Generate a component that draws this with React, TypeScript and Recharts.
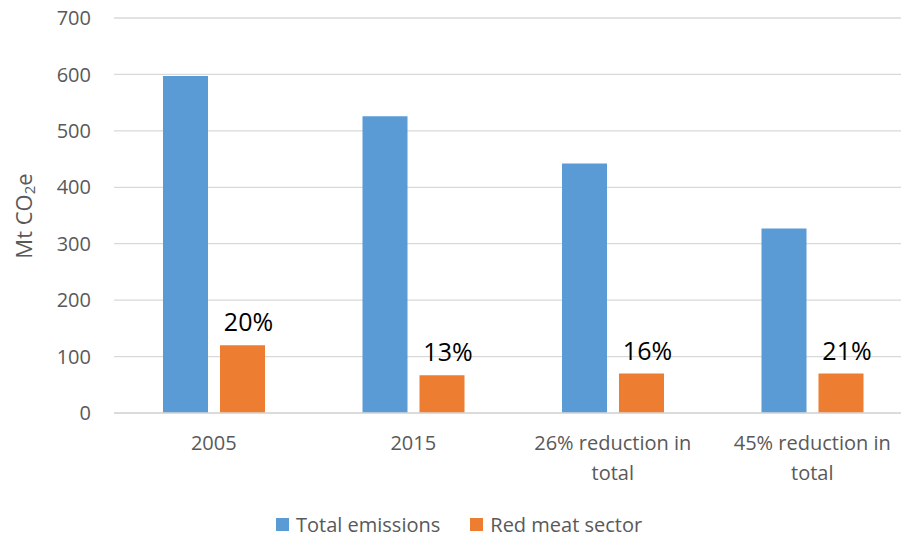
import { Bar, BarChart, CartesianGrid, LabelList, Legend, XAxis, YAxis } from "recharts"

const categories = ["2005", "2015", "26% reduction in total", "45% reduction in total"]
const totalEmissions = [597, 526, 442, 327]
const redMeatSector = [120, 67, 70, 70]
const yTicks = [0, 100, 200, 300, 400, 500, 600, 700]

const BLUE = "#5B9BD5"
const ORANGE = "#ED7D31"
const GREY = "#595959"
const FONT = "'Open Sans', sans-serif"

// share of the red meat sector in the total, shown above the orange bars
const data = categories.map((name, i) => ({
  name,
  total: totalEmissions[i],
  meat: redMeatSector[i],
  share: Math.round((redMeatSector[i] / totalEmissions[i]) * 100),
}))

function CategoryTick({ x, y, payload }: any) {
  const words = String(payload.value).split(" ")
  const lines: string[] = []
  let cur = ""
  for (const w of words) {
    const next = cur ? cur + " " + w : w
    if (next.length > 16 && cur) {
      lines.push(cur)
      cur = w
    } else {
      cur = next
    }
  }
  lines.push(cur)
  return (
    <text x={x} y={y} textAnchor="middle" fill={GREY} fontSize={20} fontFamily={FONT}>
      {lines.map((l, i) => (
        <tspan key={i} x={x} dy={i === 0 ? 29 : 30}>
          {l}
        </tspan>
      ))}
    </text>
  )
}

function ShareLabel({ x, y, width, value }: any) {
  return (
    <text x={x + width / 2 + 6} y={y - 14} textAnchor="middle" fill="#000" fontSize={25} fontFamily={FONT}>
      {value}%
    </text>
  )
}

function AxisTitle() {
  return (
    <text
      x={23}
      y={216}
      transform="rotate(-90, 23, 216)"
      textAnchor="middle"
      dominantBaseline="central"
      fill={GREY}
      fontSize={22}
      fontFamily={FONT}
    >
      Mt CO
      <tspan fontSize={15} dy={6}>
        2
      </tspan>
      <tspan dy={-6}>e</tspan>
    </text>
  )
}

function LegendContent() {
  const items = [
    { label: "Total emissions", color: BLUE },
    { label: "Red meat sector", color: ORANGE },
  ]
  return (
    <div style={{ display: "flex", gap: 30, fontFamily: FONT, fontSize: 20, color: GREY }}>
      {items.map((it) => (
        <div key={it.label} style={{ display: "flex", alignItems: "center", gap: 7 }}>
          <span style={{ width: 13, height: 13, background: it.color, display: "inline-block" }} />
          <span>{it.label}</span>
        </div>
      ))}
    </div>
  )
}

export default function App() {
  return (
    <div style={{ position: "absolute", left: 0, top: 0, width: 901, height: 540, overflow: "hidden", background: "#fff" }}>
      <BarChart
        width={920}
        height={540}
        data={data}
        margin={{ top: 18, right: 8, left: 0, bottom: 47 }}
        barSize={45}
        barGap={12}
      >
        <CartesianGrid vertical={false} stroke="#d9d9d9" strokeWidth={1.3} />
        <XAxis
          dataKey="name"
          height={80}
          tickLine={false}
          axisLine={{ stroke: "#d9d9d9", strokeWidth: 1.3 }}
          tick={<CategoryTick />}
          interval={0}
        />
        <YAxis
          width={114}
          domain={[0, 700]}
          ticks={yTicks}
          tickLine={false}
          axisLine={false}
          tickSize={0}
          tickMargin={23}
          tick={{ fill: GREY, fontSize: 20, fontFamily: FONT }}
          label={{ content: () => <AxisTitle /> }}
        />
        <Legend
          layout="horizontal"
          verticalAlign="middle"
          align="center"
          content={<LegendContent />}
          wrapperStyle={{ top: 511, left: 276, width: "auto" }}
        />
        <Bar dataKey="total" name="Total emissions" fill={BLUE} isAnimationActive={false} />
        <Bar dataKey="meat" name="Red meat sector" fill={ORANGE} isAnimationActive={false}>
          <LabelList dataKey="share" content={<ShareLabel />} />
        </Bar>
      </BarChart>
    </div>
  )
}
